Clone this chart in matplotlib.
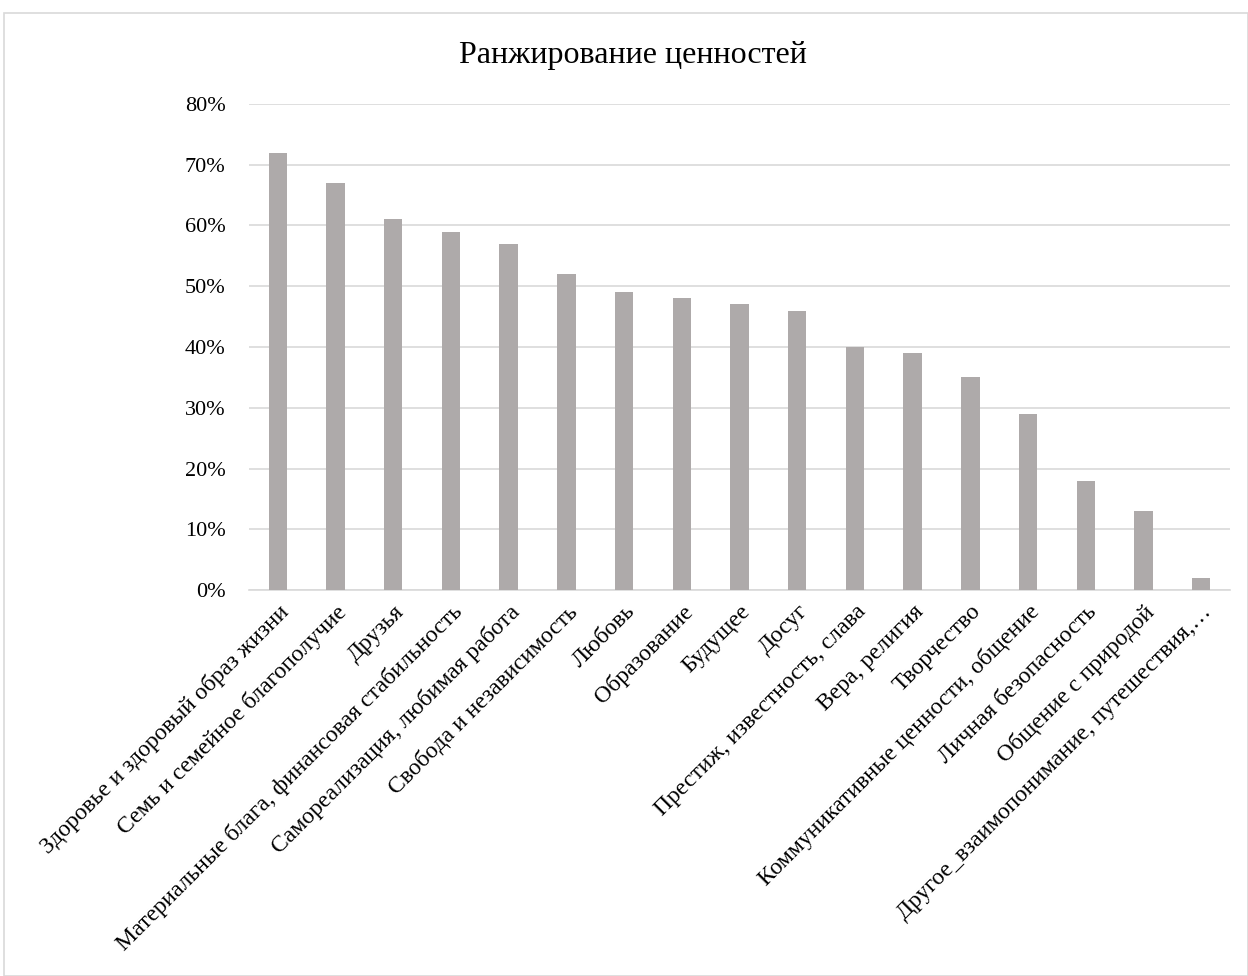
import matplotlib.pyplot as plt
from matplotlib.patches import Rectangle
from matplotlib.ticker import PercentFormatter

categories = [
    "Здоровье и здоровый образ жизни",
    "Семь и семейное благополучие",
    "Друзья",
    "Материальные блага, финансовая стабильность",
    "Самореализация, любимая работа",
    "Свобода и независимость",
    "Любовь",
    "Образование",
    "Будущее",
    "Досуг",
    "Престиж, известность, слава",
    "Вера, религия",
    "Творчество",
    "Коммуникативные ценности, общение",
    "Личная безопасность",
    "Общение с природой",
    "Другое_взаимопонимание, путешествия,…",
]
values = [0.72, 0.67, 0.61, 0.59, 0.57, 0.52, 0.49, 0.48, 0.47, 0.46,
          0.40, 0.39, 0.35, 0.29, 0.18, 0.13, 0.02]
yticks = [0, 0.1, 0.2, 0.3, 0.4, 0.5, 0.6, 0.7, 0.8]

plt.rcParams['font.family'] = ['Liberation Serif', 'DejaVu Serif']

fig = plt.figure(figsize=(12.48, 9.76), dpi=100)
ax = fig.add_axes([249 / 1248, 1 - 590 / 976, 981 / 1248, 486 / 976])

x = range(len(categories))
ax.bar(x, values, width=0.32, color='#AEAAAA', zorder=3)

ax.set_ylim(0, 0.8)
ax.set_xlim(-0.5, len(categories) - 0.5)
ax.set_yticks(yticks)
ax.yaxis.set_major_formatter(PercentFormatter(1.0, decimals=0))
ax.grid(axis='y', color='#D9D9D9', linewidth=1.2, zorder=0)
for s in ['top', 'right', 'left']:
    ax.spines[s].set_visible(False)
ax.spines['bottom'].set_color('#D9D9D9')
ax.spines['bottom'].set_linewidth(1.2)
ax.tick_params(axis='y', length=0, labelsize=16, colors='#000000', pad=17)
ax.tick_params(axis='x', length=0, labelsize=17, colors='#000000', pad=8)
ax.set_xticks(list(x))
ax.set_xticklabels(categories, rotation=45, ha='right', rotation_mode='anchor')

fig.text(633 / 1248, 1 - 55 / 976, "Ранжирование ценностей", ha='center', va='center', fontsize=23)

fig.patches.append(Rectangle((4 / 1248, 0), 1 - 4 / 1248, 1 - 13 / 976,
                             transform=fig.transFigure, fill=False,
                             edgecolor='#D9D9D9', linewidth=1.2))

fig.savefig('out.png', dpi=100)
